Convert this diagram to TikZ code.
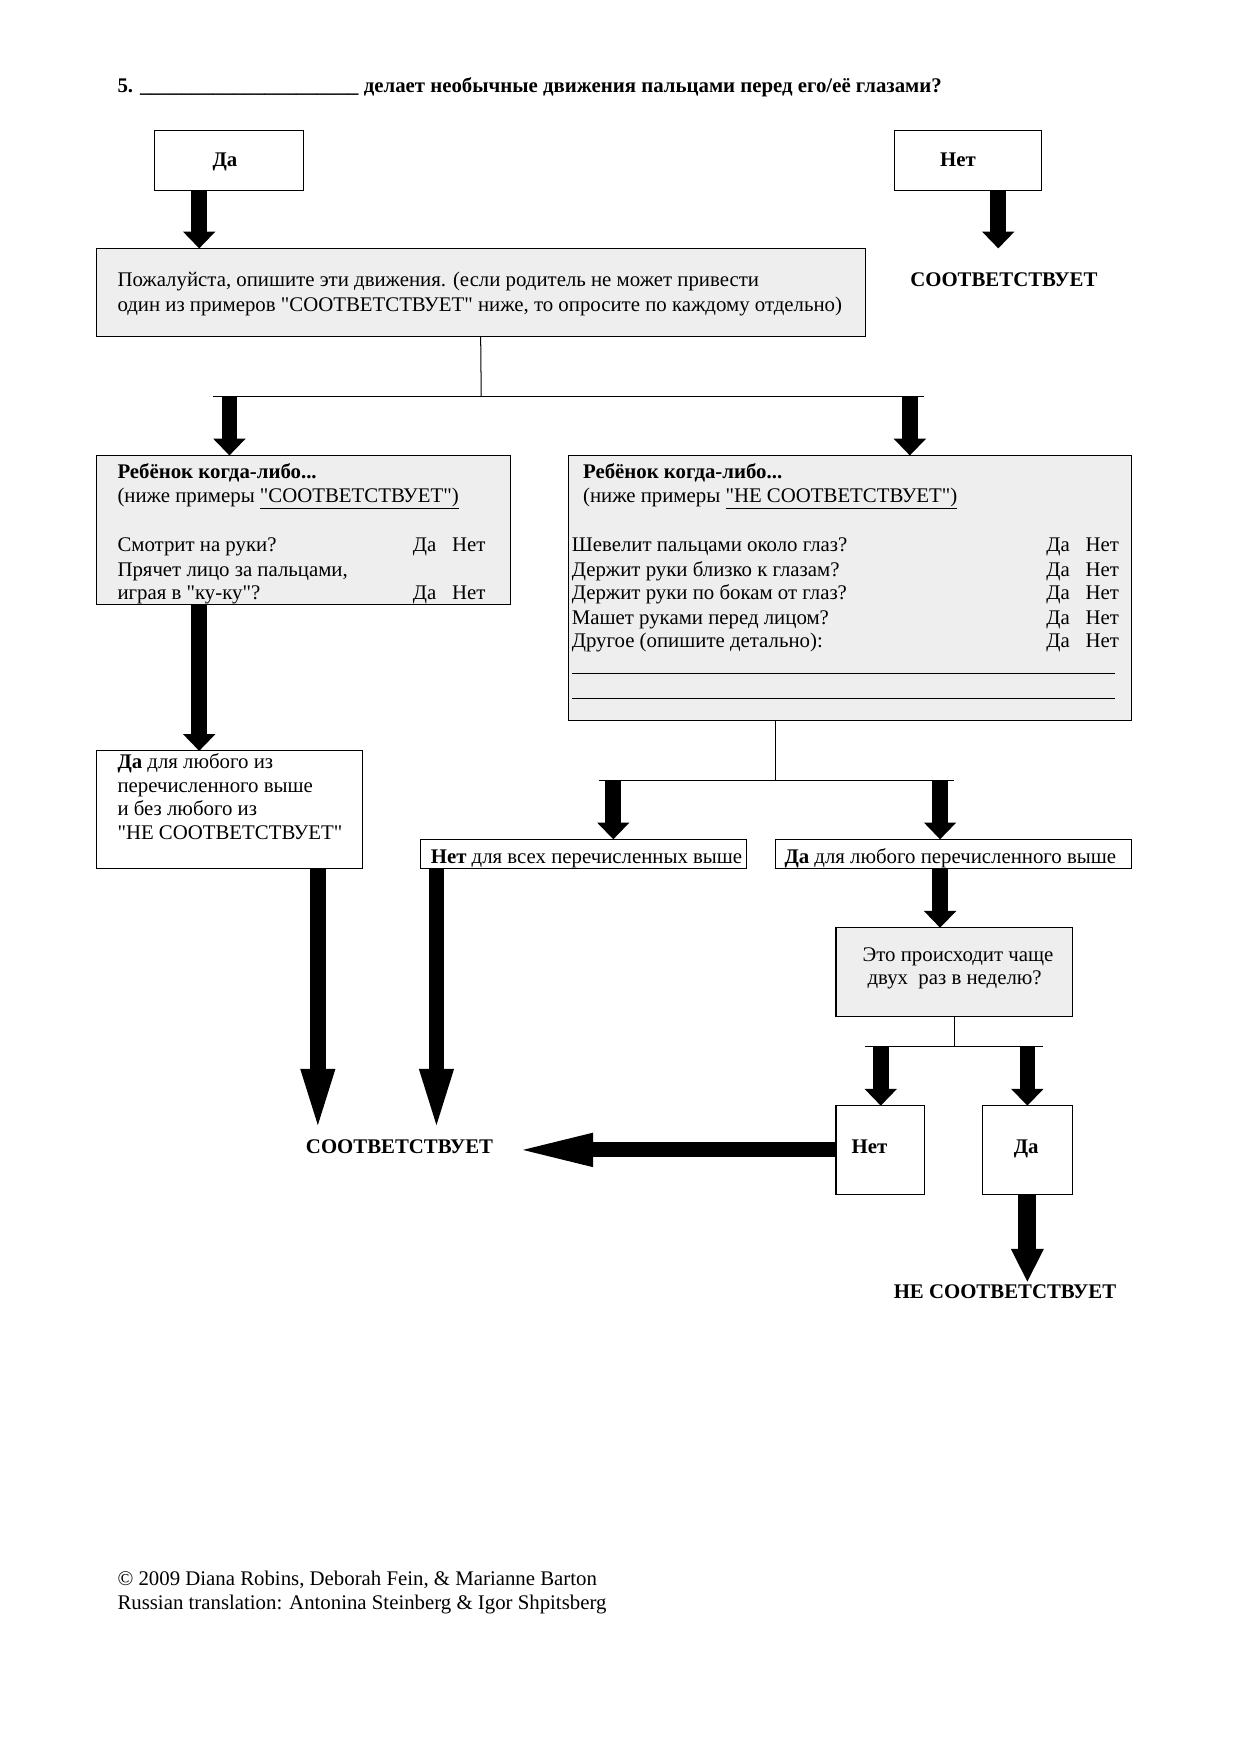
\documentclass[tikz,border=0pt]{standalone}
\usepackage{fontspec}
\setmainfont{Liberation Serif}[Ligatures=TeXOff]
\usetikzlibrary{arrows.meta}
\definecolor{boxgray}{HTML}{EEEEEE}
\begin{document}
\begin{tikzpicture}[x=1pt,y=-1pt,
  every node/.style={font=\fontsize{18.6}{22}\selectfont, inner sep=0pt, outer sep=0pt},
  gbox/.style={draw, fill=boxgray, line width=0.9pt, anchor=north west},
  wbox/.style={draw, fill=white, line width=0.9pt, anchor=north west},
  txt/.style={anchor=base west},
  btxt/.style={anchor=base west, font=\fontsize{18.6}{22}\selectfont\bfseries},
  lbl/.style={font=\fontsize{18.6}{22}\selectfont\bfseries},
  blbl/.style={anchor=base, font=\fontsize{18.6}{22}\selectfont\bfseries},
  thin/.style={line width=0.9pt},
  arr/.style={line width=14pt, -{Triangle[width=28pt,length=15pt]}},
  longarr/.style={line width=14pt, -{Triangle[width=26pt,length=60pt]}},
  bigarr/.style={line width=13.5pt, -{Triangle[width=26pt,length=73pt]}},
  endarr/.style={line width=16pt, -{Triangle[width=27pt,length=30pt]}}
]
\useasboundingbox (0,0) rectangle (1108,1567.3);
\fill[white] (0,0) rectangle (1108,1567.3);

% title
\node[btxt] (title) at (105,83) {5. \_\_\_\_\_\_\_\_\_\_\_\_\_\_\_\_\_\_\_\_\_ делает необычные движения пальцами перед его/её глазами?};

% boxes
\node[wbox, minimum width=133pt, minimum height=53pt] (daTop) at (138,117) {};
\node[wbox, minimum width=132pt, minimum height=53pt] (netTop) at (799,117) {};
\node[gbox, minimum width=687pt, minimum height=79pt] (main) at (86,222) {};
\node[gbox, minimum width=370pt, minimum height=133pt] (left) at (86,407) {};
\node[gbox, minimum width=503pt, minimum height=237pt] (right) at (508,407) {};
\node[wbox, minimum width=238pt, minimum height=105pt] (yesAny) at (86,671) {};
\node[wbox, minimum width=291pt, minimum height=26pt] (noAll) at (376,750) {};
\node[wbox, minimum width=318pt, minimum height=26pt] (yesAnyB) at (693,750) {};
\node[gbox, minimum width=211pt, minimum height=79pt] (freq) at (747,829) {};
\node[wbox, minimum width=79pt, minimum height=79pt] (netB) at (747,988) {};
\node[wbox, minimum width=80pt, minimum height=79pt] (daB) at (878,988) {};

\node[blbl] (daTopT) at (201,149) {Да};
\node[blbl] (netTopT) at (856,149) {Нет};

% main box text
\node[txt] (m1) at (105,256) {Пожалуйста, опишите эти движения. (если родитель не может привести};
\node[txt] (m2) at (105,278) {один из примеров "СООТВЕТСТВУЕТ" ниже, то опросите по каждому отдельно)};

% left box text
\node[btxt] (l1) at (105,428) {Ребёнок когда-либо...};
\node[txt] (l2) at (105,449) {(ниже примеры \underline{"СООТВЕТСТВУЕТ")}};
\node[txt] (l3) at (105,493) {Смотрит на руки?};
\node[txt] (l3a) at (369,493) {Да};
\node[txt] (l3b) at (404,493) {Нет};
\node[txt] (l4) at (105,515) {Прячет лицо за пальцами,};
\node[txt] (l5) at (105,536) {играя в "ку-ку"?};
\node[txt] (l5a) at (369,536) {Да};
\node[txt] (l5b) at (404,536) {Нет};

% right box text
\node[btxt] (r1) at (521,428) {Ребёнок когда-либо...};
\node[txt] (r2) at (521,449) {(ниже примеры \underline{"НЕ СООТВЕТСТВУЕТ")}};
\node[txt] (q1) at (511,493) {Шевелит пальцами около глаз?};
\node[txt] (q2) at (511,515) {Держит руки близко к глазам?};
\node[txt] (q3) at (511,536) {Держит руки по бокам от глаз?};
\node[txt] (q4) at (511,558) {Машет руками перед лицом?};
\node[txt] (q5) at (511,579) {Другое (опишите детально):};
\foreach \yy/\nm in {493/a1,515/a2,536/a3,558/a4,579/a5}{
  \node[txt] (\nm d) at (935,\yy) {Да};
  \node[txt] (\nm n) at (970,\yy) {Нет};
}
\coordinate (ln1a) at (511,602); \coordinate (ln1b) at (996,602);
\coordinate (ln2a) at (511,624); \coordinate (ln2b) at (996,624);
\draw[thin] (ln1a) -- (ln1b);
\draw[thin] (ln2a) -- (ln2b);

% yesAny text
\node[txt] (y1) at (105,687) {\textbf{Да} для любого из};
\node[txt] (y2) at (105,708) {перечисленного выше};
\node[txt] (y3) at (105,729) {и без любого из};
\node[txt] (y4) at (105,750) {"НЕ СООТВЕТСТВУЕТ"};

\node[txt] (na1) at (385,772) {\textbf{Нет} для всех перечисленных выше};
\node[txt] (ya1) at (701,772) {\textbf{Да} для любого перечисленного выше};

\node[anchor=base] (f1) at (856,859) {Это происходит чаще};
\node[anchor=base] (f2) at (853,880) {двух\ \ раз в неделю?};

\node[blbl] (netBt) at (777,1031) {Нет};
\node[blbl] (daBt) at (917,1031) {Да};

% labels
\node[lbl] (s1) at (897,250) {СООТВЕТСТВУЕТ};
\node[lbl] (s2) at (357,1025) {СООТВЕТСТВУЕТ};
\node[lbl] (s3) at (898,1154) {НЕ СООТВЕТСТВУЕТ};

% footer
\node[txt] (c1) at (105,1417) {© 2009 Diana Robins, Deborah Fein, \& Marianne Barton};
\node[txt] (c2) at (105,1438) {Russian translation: Antonina Steinberg \& Igor Shpitsberg};

% connectors
\draw[arr] (178,0 |- daTop.south) -- (178,0 |- main.north);
\coordinate (n1) at (892,222);
\draw[arr] (892,0 |- netTop.south) -- (n1);

\coordinate (j1) at (430,354);
\coordinate (h1a) at (190,354); \coordinate (h1b) at (826,354);
\draw[thin] (main.south) -- (j1);
\draw[thin] (h1a) -- (h1b);
\draw[arr] (205,354) -- (205,0 |- left.north);
\draw[arr] (813,354) -- (813,0 |- right.north);

\draw[arr] (178,0 |- left.south) -- (178,0 |- yesAny.north);

\coordinate (j2) at (693,697);
\coordinate (h2a) at (535,697); \coordinate (h2b) at (852,697);
\draw[thin] (693,0 |- right.south) -- (j2);
\draw[thin] (h2a) -- (h2b);
\draw[arr] (548,697) -- (548,0 |- noAll.north);
\draw[arr] (840,697) -- (840,0 |- yesAnyB.north);

\draw[arr] (840,0 |- yesAnyB.south) -- (840,0 |- freq.north);

\coordinate (j3) at (852.5,935);
\coordinate (h3a) at (773,935); \coordinate (h3b) at (932,935);
\draw[thin] (freq.south) -- (j3);
\draw[thin] (h3a) -- (h3b);
\draw[arr] (787,935) -- (787,0 |- netB.north);
\draw[arr] (918,935) -- (918,0 |- daB.north);

\coordinate (t1) at (284,1015);
\coordinate (t2) at (390,1015);
\draw[longarr] (284,0 |- yesAny.south) -- (t1);
\draw[longarr] (390,0 |- noAll.south) -- (t2);

\coordinate (t3) at (457,1027.5);
\draw[bigarr] (netB.west) -- (t3);

\coordinate (t4) at (918,1146);
\draw[endarr] (daB.south) -- (t4);
\end{tikzpicture}
\end{document}
